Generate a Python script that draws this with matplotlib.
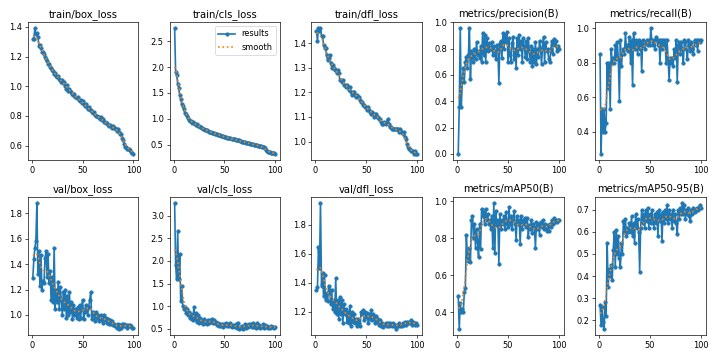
import numpy as np
import matplotlib
matplotlib.use("Agg")
import matplotlib.pyplot as plt
from matplotlib.ticker import MaxNLocator

epochs = list(range(1, 101))

titles = ["train/box_loss", "train/cls_loss", "train/dfl_loss", "metrics/precision(B)", "metrics/recall(B)",
          "val/box_loss", "val/cls_loss", "val/dfl_loss", "metrics/mAP50(B)", "metrics/mAP50-95(B)"]

train_box_loss = [1.32, 1.32, 1.39, 1.35, 1.36, 1.33, 1.27, 1.28, 1.26, 1.23, 1.23, 1.22, 1.20, 1.18, 1.17, 1.15, 1.15, 1.13, 1.12, 1.11,
                  1.10, 1.08, 1.09, 1.07, 1.06, 1.07, 1.05, 1.04, 1.03, 1.04, 1.02, 1.03, 1.00, 0.98, 1.01, 0.97, 0.98, 0.97, 0.96, 0.95,
                  0.94, 0.95, 0.93, 0.92, 0.93, 0.91, 0.90, 0.91, 0.89, 0.90, 0.88, 0.87, 0.88, 0.86, 0.85, 0.86, 0.84, 0.84, 0.83, 0.82,
                  0.83, 0.81, 0.80, 0.80, 0.79, 0.79, 0.78, 0.79, 0.77, 0.78, 0.76, 0.76, 0.75, 0.75, 0.74, 0.73, 0.74, 0.73, 0.72, 0.73,
                  0.72, 0.72, 0.71, 0.70, 0.71, 0.69, 0.68, 0.68, 0.65, 0.64, 0.61, 0.59, 0.59, 0.58, 0.58, 0.58, 0.57, 0.56, 0.55, 0.545]

train_cls_loss = [2.75, 1.90, 1.85, 1.68, 1.60, 1.45, 1.38, 1.28, 1.25, 1.18, 1.12, 1.10, 1.05, 1.02, 0.98, 0.96, 0.95, 0.92, 0.93, 0.91,
                  0.90, 0.88, 0.89, 0.86, 0.86, 0.85, 0.84, 0.82, 0.81, 0.80, 0.79, 0.78, 0.78, 0.76, 0.75, 0.75, 0.74, 0.73, 0.72, 0.72,
                  0.71, 0.70, 0.70, 0.69, 0.68, 0.68, 0.67, 0.66, 0.66, 0.65, 0.65, 0.64, 0.63, 0.63, 0.62, 0.62, 0.61, 0.61, 0.60, 0.60,
                  0.59, 0.59, 0.58, 0.58, 0.57, 0.57, 0.56, 0.56, 0.55, 0.55, 0.54, 0.54, 0.53, 0.53, 0.52, 0.52, 0.51, 0.51, 0.50, 0.50,
                  0.49, 0.49, 0.48, 0.48, 0.47, 0.47, 0.46, 0.46, 0.45, 0.44, 0.40, 0.37, 0.36, 0.35, 0.35, 0.34, 0.34, 0.33, 0.33, 0.32]

train_dfl_loss = [1.45, 1.41, 1.46, 1.45, 1.46, 1.43, 1.43, 1.39, 1.38, 1.38, 1.35, 1.33, 1.34, 1.35, 1.32, 1.30, 1.31, 1.30, 1.29, 1.29,
                  1.28, 1.29, 1.28, 1.25, 1.25, 1.24, 1.25, 1.23, 1.23, 1.22, 1.23, 1.22, 1.21, 1.22, 1.20, 1.19, 1.20, 1.20, 1.19, 1.18,
                  1.19, 1.18, 1.18, 1.17, 1.16, 1.16, 1.15, 1.15, 1.14, 1.14, 1.13, 1.14, 1.13, 1.12, 1.11, 1.12, 1.11, 1.10, 1.11, 1.11,
                  1.10, 1.10, 1.09, 1.09, 1.08, 1.07, 1.07, 1.08, 1.07, 1.08, 1.09, 1.07, 1.06, 1.06, 1.05, 1.05, 1.05, 1.05, 1.05, 1.05,
                  1.05, 1.04, 1.05, 1.04, 1.04, 1.03, 1.04, 1.02, 1.01, 0.99, 0.98, 0.97, 0.97, 0.96, 0.96, 0.96, 0.95, 0.96, 0.95, 0.95]

precision = [0.00, 0.36, 0.955, 0.36, 0.55, 0.65, 0.55, 0.70, 0.74, 0.65, 0.75, 0.955, 0.57, 0.78, 0.75, 0.70, 0.80, 0.72, 0.85, 0.75,
             0.78, 0.73, 0.82, 0.70, 0.92, 0.75, 0.90, 0.70, 0.88, 0.78, 0.84, 0.80, 0.80, 0.85, 0.75, 0.82, 0.78, 0.72, 0.83, 0.80,
             0.54, 0.84, 0.86, 0.73, 0.92, 0.80, 0.90, 0.85, 0.93, 0.70, 0.88, 0.75, 0.70, 0.84, 0.89, 0.72, 0.80, 0.65, 0.88, 0.75,
             0.90, 0.80, 0.86, 0.70, 0.88, 0.82, 0.74, 0.86, 0.72, 0.88, 0.78, 0.70, 0.82, 0.67, 0.80, 0.70, 0.85, 0.68, 0.80, 0.74,
             0.86, 0.80, 0.68, 0.82, 0.89, 0.70, 0.85, 0.78, 0.80, 0.72, 0.70, 0.78, 0.86, 0.76, 0.87, 0.83, 0.86, 0.78, 0.82, 0.80]

recall = [0.85, 0.27, 0.53, 0.40, 0.53, 0.40, 0.45, 0.80, 0.65, 0.80, 0.53, 0.88, 0.80, 0.83, 0.80, 0.90, 0.82, 0.92, 0.82, 0.58,
          0.93, 0.78, 0.85, 0.88, 0.85, 0.97, 0.88, 0.90, 0.87, 0.95, 0.80, 0.93, 0.67, 0.97, 0.88, 0.93, 0.92, 0.85, 0.93, 0.88,
          0.92, 0.75, 0.93, 0.90, 0.88, 0.92, 0.93, 0.90, 0.93, 0.90, 1.00, 0.93, 0.90, 0.93, 0.88, 0.95, 0.93, 0.90, 0.93, 0.80,
          0.93, 0.88, 0.93, 0.90, 0.93, 0.80, 0.93, 0.82, 0.70, 0.83, 0.80, 0.83, 0.78, 0.88, 0.83, 0.93, 0.69, 0.90, 0.92, 0.85,
          0.92, 0.88, 0.80, 0.93, 0.92, 0.88, 0.82, 0.93, 0.90, 0.87, 0.92, 0.88, 0.85, 0.93, 0.90, 0.93, 0.87, 0.93, 0.92, 0.93]

val_box_loss = [1.29, 1.44, 1.53, 1.58, 1.88, 1.32, 1.50, 1.23, 1.47, 1.20, 1.27, 1.25, 1.45, 1.50, 1.30, 1.48, 1.25, 1.35, 1.12, 1.30,
                1.10, 1.53, 1.05, 1.20, 1.10, 1.26, 1.05, 1.22, 1.12, 1.00, 1.18, 1.05, 1.20, 0.98, 1.15, 1.00, 1.18, 1.02, 1.10, 0.97,
                1.08, 1.00, 1.05, 0.98, 1.06, 0.97, 1.08, 0.98, 1.05, 1.12, 0.97, 1.02, 1.08, 1.05, 1.00, 1.06, 1.12, 1.18, 0.97, 1.02,
                1.00, 0.95, 1.02, 0.98, 1.00, 0.95, 0.98, 1.00, 0.96, 0.94, 1.00, 0.96, 0.98, 0.94, 0.97, 0.93, 0.96, 0.93, 0.95, 0.92,
                0.93, 0.91, 0.92, 0.90, 0.93, 0.89, 0.92, 0.90, 0.93, 0.91, 0.93, 0.91, 0.92, 0.90, 0.92, 0.91, 0.92, 0.91, 0.90, 0.90]

val_cls_loss = [3.27, 1.90, 1.60, 2.65, 1.60, 2.15, 1.12, 1.45, 1.00, 0.95, 0.98, 0.85, 0.95, 0.80, 0.88, 0.75, 0.82, 0.72, 0.70, 0.98,
                0.72, 0.85, 0.65, 0.80, 0.62, 0.75, 0.65, 0.70, 0.60, 0.72, 0.62, 0.68, 0.60, 0.70, 0.62, 0.70, 0.65, 0.72, 0.62, 0.70,
                0.62, 0.65, 0.58, 0.62, 0.57, 0.60, 0.56, 0.60, 0.55, 0.60, 0.58, 0.62, 0.56, 0.60, 0.57, 0.62, 0.55, 0.58, 0.56, 0.55,
                0.60, 0.52, 0.64, 0.50, 0.55, 0.52, 0.57, 0.50, 0.55, 0.60, 0.53, 0.58, 0.55, 0.61, 0.56, 0.60, 0.55, 0.63, 0.55, 0.58,
                0.53, 0.62, 0.55, 0.58, 0.53, 0.57, 0.55, 0.60, 0.52, 0.58, 0.55, 0.56, 0.53, 0.55, 0.52, 0.56, 0.54, 0.55, 0.53, 0.55]

val_dfl_loss = [1.35, 1.37, 1.65, 1.50, 1.95, 1.38, 1.47, 1.31, 1.45, 1.28, 1.33, 1.27, 1.38, 1.35, 1.25, 1.35, 1.22, 1.28, 1.20, 1.43,
                1.18, 1.28, 1.15, 1.30, 1.18, 1.28, 1.12, 1.25, 1.18, 1.22, 1.13, 1.20, 1.12, 1.24, 1.10, 1.20, 1.13, 1.18, 1.12, 1.15,
                1.10, 1.15, 1.12, 1.10, 1.20, 1.18, 1.21, 1.14, 1.20, 1.16, 1.19, 1.12, 1.18, 1.15, 1.21, 1.14, 1.18, 1.16, 1.12, 1.17,
                1.13, 1.15, 1.11, 1.14, 1.10, 1.12, 1.09, 1.11, 1.12, 1.10, 1.12, 1.10, 1.12, 1.11, 1.10, 1.12, 1.10, 1.11, 1.08, 1.11,
                1.10, 1.12, 1.10, 1.11, 1.10, 1.12, 1.11, 1.13, 1.11, 1.13, 1.12, 1.13, 1.12, 1.14, 1.11, 1.13, 1.12, 1.11, 1.12, 1.11]

map50 = [0.49, 0.31, 0.45, 0.40, 0.42, 0.40, 0.51, 0.53, 0.82, 0.70, 0.68, 0.75, 0.67, 0.90, 0.92, 0.80, 0.88, 0.75, 0.85, 0.78,
         0.70, 0.88, 0.74, 0.96, 0.92, 0.94, 0.88, 0.96, 0.90, 0.93, 0.88, 0.90, 0.85, 0.92, 0.75, 0.99, 0.72, 0.95, 0.87, 0.90,
         0.66, 0.93, 0.85, 0.90, 0.88, 0.92, 0.85, 0.94, 0.88, 0.86, 0.97, 0.88, 0.92, 0.85, 0.90, 0.95, 0.88, 0.79, 0.92, 0.88,
         0.90, 0.77, 0.92, 0.85, 0.90, 0.88, 0.91, 0.86, 0.91, 0.81, 0.87, 0.85, 0.90, 0.83, 0.88, 0.86, 0.75, 0.89, 0.85, 0.88,
         0.82, 0.89, 0.86, 0.90, 0.85, 0.88, 0.86, 0.84, 0.87, 0.84, 0.88, 0.86, 0.90, 0.88, 0.91, 0.89, 0.90, 0.89, 0.90, 0.90]

map50_95 = [0.27, 0.18, 0.26, 0.19, 0.16, 0.28, 0.22, 0.55, 0.35, 0.43, 0.40, 0.45, 0.38, 0.52, 0.60, 0.44, 0.61, 0.50, 0.58, 0.48,
            0.44, 0.55, 0.50, 0.65, 0.60, 0.66, 0.58, 0.62, 0.60, 0.64, 0.60, 0.67, 0.58, 0.64, 0.55, 0.68, 0.62, 0.66, 0.60, 0.42,
            0.62, 0.70, 0.64, 0.68, 0.62, 0.70, 0.65, 0.71, 0.62, 0.68, 0.64, 0.70, 0.66, 0.62, 0.68, 0.64, 0.69, 0.58, 0.70, 0.65,
            0.68, 0.56, 0.69, 0.64, 0.70, 0.66, 0.72, 0.64, 0.70, 0.66, 0.68, 0.62, 0.70, 0.65, 0.68, 0.64, 0.59, 0.70, 0.66, 0.71,
            0.68, 0.73, 0.68, 0.72, 0.66, 0.70, 0.68, 0.71, 0.67, 0.65, 0.70, 0.68, 0.71, 0.69, 0.70, 0.71, 0.70, 0.71, 0.72, 0.71]

series = [train_box_loss, train_cls_loss, train_dfl_loss, precision, recall,
          val_box_loss, val_cls_loss, val_dfl_loss, map50, map50_95]


def gaussian_smooth(y, sigma=3.0, truncate=4.0):
    y = np.asarray(y, dtype=float)
    r = int(truncate * sigma + 0.5)
    k = np.arange(-r, r + 1)
    w = np.exp(-0.5 * (k / sigma) ** 2)
    w /= w.sum()
    p = np.pad(y, r, mode="symmetric")
    return np.convolve(p, w, mode="valid")


fig, axes = plt.subplots(2, 5, figsize=(12, 6), dpi=718 / 12, tight_layout=True)
axes = axes.ravel()
for i, (ax, t, y) in enumerate(zip(axes, titles, series)):
    ax.plot(epochs, y, marker=".", label="results", linewidth=2, markersize=8)
    ax.plot(epochs, gaussian_smooth(y), ":", label="smooth", linewidth=2)
    ax.set_title(t, fontsize=12)
    ax.yaxis.set_major_locator(MaxNLocator(nbins=7, steps=[1, 2, 2.5, 5, 10]))
axes[1].legend()
fig.savefig("out.png", dpi=718 / 12)
